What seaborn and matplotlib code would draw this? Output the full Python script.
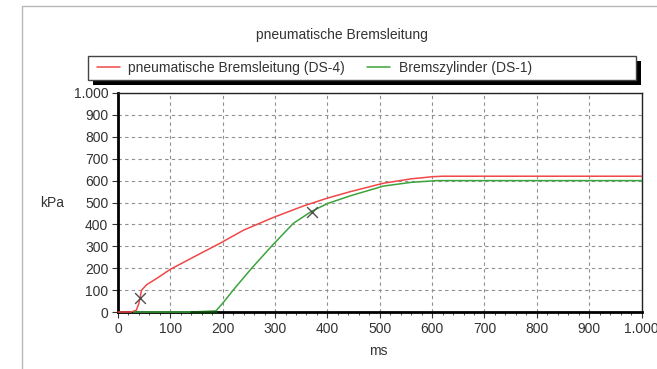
import matplotlib
matplotlib.use("Agg")
import matplotlib.pyplot as plt
import matplotlib.ticker as mticker
from matplotlib.patches import Rectangle
from matplotlib.lines import Line2D
import seaborn as sns
import pandas as pd

# ---- data ----
red_label = "pneumatische Bremsleitung (DS-4)"
green_label = "Bremszylinder (DS-1)"
red_ms = [0, 25, 35, 40, 45, 55, 75, 100, 150, 195, 240, 296, 354, 400, 443, 507, 560, 602, 620, 1000]
red_kpa = [0, 0, 8, 40, 100, 125, 155, 195, 258, 314, 374, 431, 484, 520, 549, 588, 608, 618, 620, 620]
green_ms = [30, 140, 187, 200, 220, 255, 297, 335, 370, 400, 443, 507, 560, 610, 1000]
green_kpa = [0, 0, 5, 40, 100, 199, 310, 405, 460, 495, 530, 575, 592, 600, 600]
dark_ms = [140, 187]
dark_kpa = [2, 2]
marker_ms = [42, 370]
marker_kpa = [62, 455]
x_ticks = list(range(0, 1001, 100))
y_ticks = list(range(0, 1001, 100))

sns.set_style("white")
plt.rcParams['font.family'] = ['Liberation Sans', 'DejaVu Sans']
FS = 10
TXT = "#333333"

fig = plt.figure(figsize=(6.57, 3.69), dpi=100)
ax = fig.add_axes([118/657, 1-312/369, (641.5-118)/657, (312-93)/369])

df = pd.concat([
    pd.DataFrame({"ms": red_ms, "kPa": red_kpa, "series": red_label}),
    pd.DataFrame({"ms": green_ms, "kPa": green_kpa, "series": green_label}),
])
sns.lineplot(data=df, x="ms", y="kPa", hue="series", ax=ax,
             palette={red_label: "#f04848", green_label: "#3ca43c"},
             linewidth=1.1, sort=False, estimator=None, legend=False, zorder=3)
sns.lineplot(x=dark_ms, y=dark_kpa, ax=ax, color="#0a3a0a", linewidth=1.8, legend=False, zorder=3)
for ln in ax.get_lines():
    ln.set_clip_on(False)
ax.scatter(marker_ms, marker_kpa, marker="x", s=60, color="#505050", linewidths=1.0, zorder=5)

ax.set_xlim(0, 1000)
ax.set_ylim(0, 1000)
ax.set_xticks(x_ticks)
ax.set_yticks(y_ticks)
fmt = mticker.FuncFormatter(lambda v, p: f"{int(v):,}".replace(",", "."))
ax.xaxis.set_major_formatter(fmt)
ax.yaxis.set_major_formatter(fmt)
ax.xaxis.set_minor_locator(mticker.MultipleLocator(20))
ax.tick_params(axis="both", which="major", direction="out", length=4, width=0.8,
               color="#333333", labelsize=FS, labelcolor=TXT, pad=3)
ax.tick_params(axis="x", which="minor", direction="out", length=2, width=0.6, color="#333333")
ax.tick_params(bottom=True, left=True, which="major")
ax.tick_params(bottom=True, which="minor")
ax.grid(True, which="major", linestyle=(0, (3, 3)), color="#909090", linewidth=0.8)
ax.set_axisbelow(True)
for side in ["left", "bottom"]:
    ax.spines[side].set_linewidth(2.0)
    ax.spines[side].set_color("black")
for side in ["top", "right"]:
    ax.spines[side].set_linewidth(1.0)
    ax.spines[side].set_color("#222222")
ax.set_xlabel("")
ax.set_ylabel("")

fig.text(52/657, 1-203/369, "kPa", ha="center", va="center", fontsize=FS, color=TXT)
fig.text(378/657, 1-351/369, "ms", ha="center", va="center", fontsize=FS, color=TXT)
fig.text(342/657, 1-35/369, "pneumatische Bremsleitung", ha="center", va="center",
         fontsize=FS, color=TXT)

# legend box with hard black shadow
W, H = 657, 369
fig.patches.append(Rectangle(((88+5)/W, 1-(80+5)/H), (636-88)/W, (80-56)/H,
                             transform=fig.transFigure, facecolor="black", edgecolor="none"))
fig.patches.append(Rectangle((88/W, 1-80/H), (636-88)/W, (80-56)/H,
                             transform=fig.transFigure, facecolor="white",
                             edgecolor="#444444", linewidth=1.0))

handles = [Line2D([], [], color="#f04848", lw=1.1), Line2D([], [], color="#3ca43c", lw=1.1)]
leg = fig.legend(handles, [red_label, green_label], loc="center left",
                 bbox_to_anchor=(97/W, 1-68/H), ncol=2, fontsize=FS, frameon=False,
                 borderpad=0, borderaxespad=0, handlelength=1.63, handletextpad=0.63,
                 columnspacing=1.6)
for t in leg.get_texts():
    t.set_color(TXT)

fig.patches.append(Rectangle((22/W, -0.5), 2, 0.5 + 1 - 6/H, transform=fig.transFigure,
                             fill=False, edgecolor="#b8b8b8", linewidth=1.0))

fig.savefig("out.png", dpi=100)
